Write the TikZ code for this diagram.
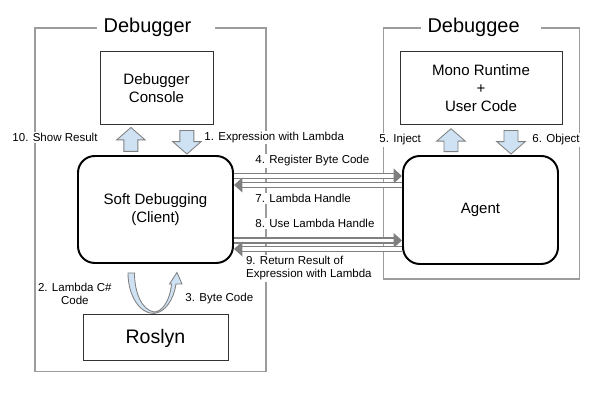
\documentclass[tikz,border=0pt]{standalone}
\usepackage{fontspec}
\setmainfont{Liberation Sans}
\usetikzlibrary{arrows.meta, calc, positioning}
\definecolor{flechebleu}{HTML}{CFE2F3}
\definecolor{bordgris}{HTML}{7F7F7F}
\definecolor{cadregris}{HTML}{9C9C9C}
\definecolor{boitegris}{HTML}{333333}

% Flèche pleine de #1 vers #2
\newcommand{\blocfleche}[2]{%
  \coordinate (#2-base) at ($(#2)!0.31cm!(#1)$);
  \filldraw[bloc] ($(#1)!0.175cm!90:(#2)$) -- ($(#2-base)!0.175cm!90:(#2)$)
    -- ($(#2-base)!0.356cm!90:(#2)$) -- (#2)
    -- ($(#2-base)!0.356cm!-90:(#2)$) -- ($(#2-base)!0.175cm!-90:(#2)$)
    -- ($(#1)!0.175cm!-90:(#2)$) -- cycle;}

\begin{document}
\begin{tikzpicture}[>=Stealth, every node/.style={font=\fontsize{10.7}{12.8}\selectfont},
  cadre/.style={draw=cadregris, line width=0.9pt},
  titre/.style={fill=white, inner xsep=0.17cm, inner ysep=1pt, text width=#1, align=left,
    font=\fontsize{14.2}{17}\selectfont},
  boite/.style={draw=boitegris, line width=0.7pt, minimum width=#1, minimum height=1.825cm,
    align=center, inner sep=0pt},
  coeur/.style={draw=black, line width=1.4pt, rounded corners=0.42cm, minimum width=3.875cm,
    minimum height=2.675cm, align=center},
  etiq/.style={fill=white, inner sep=1pt, anchor=west, font=\fontsize{8.2}{9.5}\selectfont},
  bloc/.style={fill=flechebleu, draw=bordgris, line width=0.6pt},
  liaison/.style={draw=bordgris, line width=1.1pt, double=white, double distance=2.4pt,
    -{Triangle[length=6pt, width=10.5pt]}}]

  \useasboundingbox (0,0) rectangle (15,10);

  % Cadres
  \draw[cadre] (0.875,0.7075) rectangle (6.65,9.3);
  \draw[cadre] (9.5825,3.025) rectangle (14.4825,9.3);
  \node[titre=2.61cm] (tdebugger) at (3.896,9.32) {Debugger};
  \node[titre=2.66cm] (tdebuggee) at (12.0175,9.32) {Debuggee};

  % Boites
  \node[boite=2.825cm] (console) at (3.9125,7.7875) {Debugger\\Console};
  \node[boite=4.05cm] (mono) at (12.025,7.7875) {Mono Runtime\\+\\User Code};
  \node[coeur] (soft) at (3.8875,4.7625) {Soft Debugging\\(Client)};
  \node[coeur, minimum height=2.7cm] (agent) at (12.0125,4.75) {Agent};
  \node[boite=3.625cm, minimum height=1.15cm, font=\fontsize{13.9}{16}\selectfont] (roslyn)
    at (3.8875,1.55) {Roslyn};

  % Etiquettes
  \node[etiq] (e10) at (0.27,6.5625) {10. Show Result};
  \node[etiq] (e1) at (5.07,6.5575) {1. Expression with Lambda};
  \node[etiq] (e5) at (9.445,6.5) {5. Inject};
  \node[etiq] (e6) at (13.27,6.5) {6. Object};
  \node[etiq] (e4) at (6.345,5.975) {4. Register Byte Code};
  \node[etiq] (e7) at (6.345,5.0425) {7. Lambda Handle};
  \node[etiq] (e8) at (6.345,4.4175) {8. Use Lambda Handle};
  \node[etiq, align=left] (e9) at (6.11,3.2925) {9. Return Result of\\Expression with Lambda};
  \node[etiq, anchor=center, align=center] (e2) at (1.87,2.645) {2. Lambda C\#\\Code};
  \node[etiq] (e3) at (4.595,2.5425) {3. Byte Code};

  % Flèches pleines
  \coordinate (f10b) at ($(console.south)+(-0.64,-0.05)$);
  \coordinate (f10a) at ($(f10b |- soft.north)+(0,0.09)$);
  \blocfleche{f10a}{f10b}
  \coordinate (f1a) at ($(console.south)+(0.76,-0.125)$);
  \coordinate (f1b) at ($(f1a |- soft.north)+(0,0.025)$);
  \blocfleche{f1a}{f1b}
  \coordinate (f5b) at ($(mono.south)+(-0.75,-0.08)$);
  \coordinate (f5a) at ($(f5b |- agent.north)+(0,0.085)$);
  \blocfleche{f5a}{f5b}
  \coordinate (f6a) at ($(mono.south)+(0.75,-0.125)$);
  \coordinate (f6b) at ($(f6a |- agent.north)+(0,0.025)$);
  \blocfleche{f6a}{f6b}

  % Liaisons client / agent
  \coordinate (l4) at ($(soft.east)+(0,0.8375)$);
  \coordinate (l7) at ($(soft.east)+(0,0.6125)$);
  \coordinate (l8) at ($(soft.east)+(0,-0.775)$);
  \coordinate (l9) at ($(soft.east)+(0,-0.9875)$);
  \draw[liaison] (l4) -- (l4 -| agent.west);
  \draw[liaison] (l7 -| agent.west) -- (l7);
  \draw[liaison] (l8) -- (l8 -| agent.west);
  \draw[liaison] (l9 -| agent.west) -- (l9);

  % Aller-retour Roslyn
  \begin{scope}[shift={(soft.south)}]
    \filldraw[bloc] (-0.6875,-0.225) .. controls (-0.6875,-0.8) and (-0.3875,-1.2375) .. (-0.05,-1.2375)
      .. controls (0.2375,-1.225) and (0.4625,-0.875) .. (0.5125,-0.5)
      -- (0.6625,-0.5) -- (0.5375,-0.2125) -- (0.35,-0.5) -- (0.4,-0.5)
      .. controls (0.3625,-0.925) and (0.1625,-1.2) .. (-0.0375,-1.2)
      .. controls (-0.3375,-1.15) and (-0.525,-0.725) .. (-0.525,-0.225) -- cycle;
  \end{scope}

\end{tikzpicture}
\end{document}
